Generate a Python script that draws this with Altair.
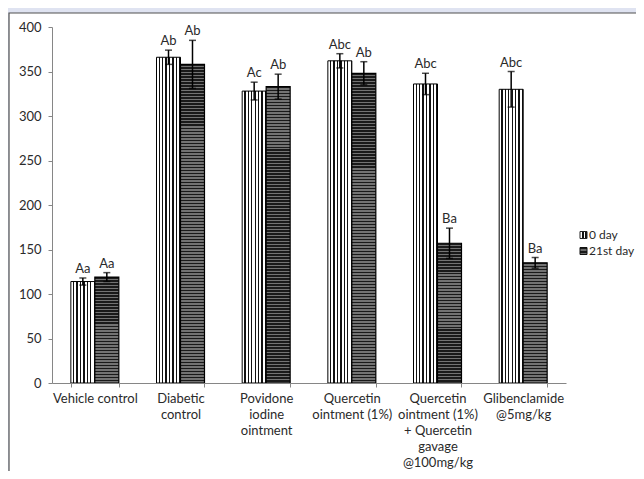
import altair as alt
import pandas as pd

categories = ["Vehicle control", "Diabetic|control", "Povidone|iodine|ointment",
              "Quercetin|ointment (1%)",
              "Quercetin|ointment (1%)|+ Quercetin|gavage|@100mg/kg",
              "Glibenclamide|@5mg/kg"]
series = ["0 day", "21st day"]
day0 = [114, 366, 328, 362, 336, 330]
day0_err = [4, 8, 10, 8, 12, 20]
day21 = [119, 358, 333, 348, 157, 135]
day21_err = [5, 27, 14, 13, 17, 6]
labels0 = ["Aa", "Ab", "Ac", "Abc", "Abc", "Abc"]
labels21 = ["Aa", "Ab", "Ab", "Ab", "Ba", "Ba"]
y_ticks = [0, 50, 100, 150, 200, 250, 300, 350, 400]

rows = []
for i, c in enumerate(categories):
    rows.append({"cat": c, "series": series[0], "value": day0[i], "err": day0_err[i], "lab": labels0[i]})
    rows.append({"cat": c, "series": series[1], "value": day21[i], "err": day21_err[i], "lab": labels21[i]})
df = pd.DataFrame(rows)
df["lo"] = df["value"] - df["err"]
df["hi"] = df["value"] + df["err"]

W, H = 514, 356
TXT = "#2a2a2a"
AX = "#868686"


def vstripes(n, frac=0.62, light="white", dark="#111111"):
    stops = []
    for k in range(n):
        a, b, c = k / n, (k + frac) / n, (k + 1) / n
        stops += [{"offset": a, "color": light}, {"offset": b, "color": light},
                  {"offset": b, "color": dark}, {"offset": c, "color": dark}]
    return {"gradient": "linear", "x1": 0, "y1": 0, "x2": 1, "y2": 0, "stops": stops}


def hstripes(n, dark="#1a1a1a", light="#737373"):
    stops = []
    for k in range(n):
        a, b, c = k / n, (k + 0.5) / n, (k + 1) / n
        stops += [{"offset": a, "color": dark}, {"offset": b, "color": dark},
                  {"offset": b, "color": light}, {"offset": c, "color": light}]
    return {"gradient": "linear", "x1": 0, "y1": 0, "x2": 0, "y2": 1, "stops": stops}


x_enc = alt.X("cat:N", sort=categories,
              scale=alt.Scale(domain=categories, paddingInner=0.44, paddingOuter=0.22),
              axis=alt.Axis(title=None, labelAngle=0, labelExpr="split(datum.label, '|')",
                            tickBand="extent", labelLineHeight=16, labelFontSize=13,
                            labelColor=TXT, domainColor=AX, tickColor=AX, tickSize=4,
                            labelPadding=5, labelLimit=300, labelOverlap=False, zindex=1,
                            labelBaseline="top"))
xo_enc = alt.XOffset("series:N", scale=alt.Scale(domain=series, paddingInner=0, paddingOuter=0))
y_enc = alt.Y("value:Q", scale=alt.Scale(domain=[0, 400], nice=False),
              axis=alt.Axis(title=None, values=y_ticks, grid=False, tickSize=4,
                            labelFontSize=13, labelColor=TXT, domainColor=AX,
                            tickColor=AX, labelPadding=7, zindex=1))

one = pd.DataFrame({"k": [0]})
panel = alt.Chart(one).mark_rect(fill="white", stroke="#505050", strokeWidth=1.2).encode(
    x=alt.value(-43), x2=alt.value(W + 120), y=alt.value(-14), y2=alt.value(H + 140))

base = alt.Chart(df)
bars0 = alt.Chart(df[df.series == series[0]]).mark_bar(
    fill=vstripes(7), stroke="black", strokeWidth=1).encode(x=x_enc, xOffset=xo_enc, y=y_enc)

bars21 = []
for i, c in enumerate(categories):
    n = max(2, round(day21[i] * H / 400 / 3))
    sub = df[(df.series == series[1]) & (df.cat == c)]
    bars21.append(alt.Chart(sub).mark_bar(fill=hstripes(n), stroke="black", strokeWidth=1.2)
                  .encode(x=x_enc, xOffset=xo_enc, y=y_enc))

rules = base.mark_rule(color="black", strokeWidth=1.5).encode(
    x=x_enc, xOffset=xo_enc, y=alt.Y("lo:Q"), y2="hi:Q")
cap_hi = base.mark_tick(color="black", size=7, thickness=1.5).encode(
    x=x_enc, xOffset=xo_enc, y=alt.Y("hi:Q"))
cap_lo = base.mark_tick(color="black", size=7, thickness=1.5).encode(
    x=x_enc, xOffset=xo_enc, y=alt.Y("lo:Q"))
texts = base.mark_text(baseline="bottom", dy=-2, fontSize=13, color=TXT).encode(
    x=x_enc, xOffset=xo_enc, y=alt.Y("hi:Q"), text="lab:N")

leg0 = pd.DataFrame({"s": [series[0]]})
leg1 = pd.DataFrame({"s": [series[1]]})
lx, ly0, ly1 = 528, 208, 224
leg_icon0 = alt.Chart(leg0).mark_rect(fill=vstripes(2, frac=0.55), stroke="#222222", strokeWidth=1).encode(
    x=alt.value(lx), x2=alt.value(lx + 7), y=alt.value(ly0 - 3.5), y2=alt.value(ly0 + 3.5))
leg_icon1 = alt.Chart(leg1).mark_rect(fill=hstripes(2, dark="#1a1a1a", light="#6a6a6a"), stroke="#111111", strokeWidth=1).encode(
    x=alt.value(lx), x2=alt.value(lx + 7), y=alt.value(ly1 - 3.5), y2=alt.value(ly1 + 3.5))
leg_t0 = alt.Chart(leg0).mark_text(align="left", baseline="middle", fontSize=12, color=TXT).encode(
    x=alt.value(lx + 9), y=alt.value(ly0), text="s:N")
leg_t1 = alt.Chart(leg1).mark_text(align="left", baseline="middle", fontSize=12, color=TXT).encode(
    x=alt.value(lx + 9), y=alt.value(ly1), text="s:N")

chart = alt.layer(panel, bars0, *bars21, rules, cap_hi, cap_lo, texts,
                  leg_icon0, leg_icon1, leg_t0, leg_t1).properties(
    width=W, height=H,
    autosize=alt.AutoSizeParams(type="none"),
    padding={"left": 44, "top": 19, "right": 70, "bottom": 88},
    background="#dfe3f1",
).configure(font="Lato").configure_view(stroke=None)

chart.save("out.html", embed_options={"renderer": "svg", "actions": False})
